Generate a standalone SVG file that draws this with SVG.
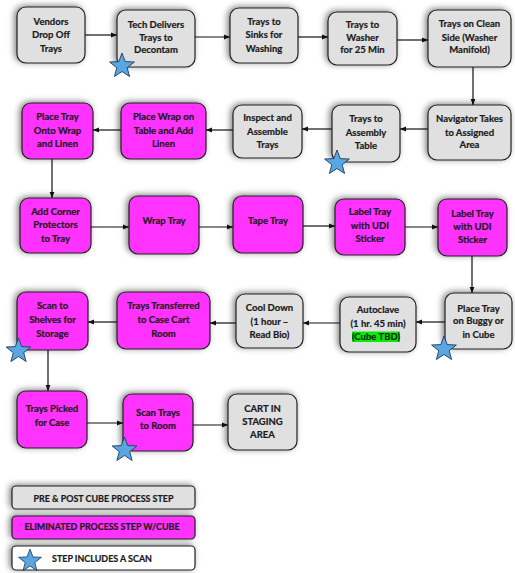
<svg xmlns="http://www.w3.org/2000/svg" width="515" height="573" viewBox="0 0 515 573">
<defs>
<filter id="sh" x="-30%" y="-30%" width="160%" height="160%">
<feGaussianBlur in="SourceAlpha" stdDeviation="3"/>
<feOffset dx="-2" dy="-1" result="b"/>
<feFlood flood-color="#000" flood-opacity="0.5"/>
<feComposite in2="b" operator="in"/>
<feMerge><feMergeNode/><feMergeNode in="SourceGraphic"/></feMerge>
</filter>
<marker id="ah" viewBox="0 0 10 10" refX="10" refY="5" markerWidth="6" markerHeight="6" markerUnits="userSpaceOnUse" orient="auto">
<path d="M0,1 L10,5 L0,9 Z" fill="#111"/>
</marker>
<path id="star" d="M0,-13 L3.2,-4.4 L12.4,-4 L5.2,1.7 L7.6,10.5 L0,5.5 L-7.6,10.5 L-5.2,1.7 L-12.4,-4 L-3.2,-4.4 Z"/>
</defs>
<style>
.g{fill:#e0e0e0;stroke:#222;stroke-width:1.2;filter:url(#sh)}
.m{fill:#ff33ff;stroke:#222;stroke-width:1.2;filter:url(#sh)}
.w{fill:#fff;stroke:#222;stroke-width:1.2;filter:url(#sh)}
text{font-family:Lato,"Liberation Sans",sans-serif;font-weight:bold;font-size:9.5px;fill:#1a1a1a;stroke:#1a1a1a;stroke-width:0.2;text-anchor:middle}
.lg{font-size:8.8px}
.st{fill:#5aa6e0;stroke:#1e3a5c;stroke-width:0.9}
.c line{stroke:#111;stroke-width:1.2;marker-end:url(#ah)}
</style>
<g class="c" id="connectors">
<line x1="85" y1="35" x2="117" y2="35"/>
<line x1="195" y1="37" x2="230" y2="37"/>
<line x1="298" y1="37" x2="328" y2="37"/>
<line x1="397" y1="40" x2="428" y2="40"/>
<line x1="473" y1="67" x2="473" y2="105"/>
<line x1="428" y1="129" x2="400" y2="129"/>
<line x1="332" y1="129" x2="302" y2="129"/>
<line x1="233" y1="130" x2="206" y2="130"/>
<line x1="121" y1="130" x2="93" y2="130"/>
<line x1="52" y1="159" x2="52" y2="198"/>
<line x1="91" y1="227" x2="129" y2="227"/>
<line x1="199" y1="227" x2="233" y2="227"/>
<line x1="303" y1="226" x2="335" y2="226"/>
<line x1="405" y1="227" x2="438" y2="227"/>
<line x1="472" y1="256" x2="472" y2="293"/>
<line x1="445" y1="322" x2="416" y2="322"/>
<line x1="340" y1="323" x2="303" y2="323"/>
<line x1="236" y1="323" x2="210" y2="323"/>
<line x1="117" y1="322" x2="88" y2="322"/>
<line x1="48" y1="350" x2="48" y2="391"/>
<line x1="87" y1="423" x2="123" y2="423"/>
<line x1="193" y1="425" x2="228" y2="425"/>
</g>
<g id="n1"><rect class="g" x="17" y="7" width="68" height="56" rx="9"/>
<text x="51" y="25">Vendors</text><text x="51" y="38.3">Drop Off</text><text x="51" y="51.6">Trays</text></g>
<g id="n2"><rect class="g" x="117" y="10" width="78" height="57" rx="9"/>
<text x="156" y="28.3">Tech Delivers</text><text x="156" y="40.5">Trays to</text><text x="156" y="53.3">Decontam</text>
<use href="#star" class="st" transform="translate(122,66)"/></g>
<g id="n3"><rect class="g" x="230" y="8" width="68" height="55" rx="9"/>
<text x="264" y="25">Trays to</text><text x="264" y="38.3">Sinks for</text><text x="264" y="52">Washing</text></g>
<g id="n4"><rect class="g" x="328" y="12" width="69" height="53" rx="9"/>
<text x="362.5" y="28.3">Trays to</text><text x="362.5" y="40.6">Washer</text><text x="362.5" y="53.3">for 25 Min</text></g>
<g id="n5"><rect class="g" x="428" y="10" width="83" height="57" rx="9"/>
<text x="469.5" y="27.3">Trays on Clean</text><text x="469.5" y="40.6">Side (Washer</text><text x="469.5" y="53.3">Manifold)</text></g>
<g id="n6"><rect class="g" x="428" y="105" width="83" height="55" rx="9"/>
<text x="469.5" y="122.3">Navigator Takes</text><text x="469.5" y="135.6">to Assigned</text><text x="469.5" y="148.3">Area</text></g>
<g id="n7"><rect class="g" x="332" y="105" width="68" height="57" rx="9"/>
<text x="366" y="122.3">Trays to</text><text x="366" y="136">Assembly</text><text x="366" y="149.3">Table</text>
<use href="#star" class="st" transform="translate(337,163)"/></g>
<g id="n8"><rect class="g" x="233" y="105" width="69" height="53" rx="9"/>
<text x="267.5" y="121.3">Inspect and</text><text x="267.5" y="135">Assemble</text><text x="267.5" y="148.3">Trays</text></g>
<g id="n9"><rect class="m" x="121" y="103" width="85" height="56" rx="9"/>
<text x="163.5" y="120">Place Wrap on</text><text x="163.5" y="134">Table and Add</text><text x="163.5" y="146.6">Linen</text></g>
<g id="n10"><rect class="m" x="22" y="103" width="71" height="56" rx="9"/>
<text x="57.5" y="120">Place Tray</text><text x="57.5" y="134.3">Onto Wrap</text><text x="57.5" y="147.3">and Linen</text></g>
<g id="n11"><rect class="m" x="20" y="198" width="71" height="55" rx="9"/>
<text x="55.5" y="215">Add Corner</text><text x="55.5" y="228.3">Protectors</text><text x="55.5" y="241.6">to Tray</text></g>
<g id="n12"><rect class="m" x="129" y="196" width="70" height="58" rx="9"/>
<text x="164" y="224">Wrap Tray</text></g>
<g id="n13"><rect class="m" x="233" y="196" width="70" height="57" rx="9"/>
<text x="268" y="224.3">Tape Tray</text></g>
<g id="n14"><rect class="m" x="335" y="199" width="70" height="56" rx="9"/>
<text x="370" y="215">Label Tray</text><text x="370" y="229">with UDI</text><text x="370" y="242.3">Sticker</text></g>
<g id="n15"><rect class="m" x="438" y="199" width="69" height="57" rx="9"/>
<text x="472.5" y="216.6">Label Tray</text><text x="472.5" y="230">with UDI</text><text x="472.5" y="243.3">Sticker</text></g>
<g id="n16"><rect class="g" x="445" y="293" width="67" height="56" rx="9"/>
<text x="478.5" y="311.6">Place Tray</text><text x="478.5" y="324.3">on Buggy or</text><text x="478.5" y="338.3">in Cube</text>
<use href="#star" class="st" transform="translate(444,349)"/></g>
<g id="n17"><rect class="g" x="340" y="297" width="76" height="55" rx="9"/>
<rect x="352" y="331.5" width="48" height="10.5" fill="#00ee00"/>
<text x="378" y="313.3">Autoclave</text><text x="378" y="327.3">(1 hr. 45 min)</text><text x="376" y="340">(Cube TBD)</text></g>
<g id="n18"><rect class="g" x="236" y="294" width="67" height="54" rx="9"/>
<text x="269.5" y="311.3">Cool Down</text><text x="269.5" y="325">(1 hour –</text><text x="269.5" y="338.3">Read Bio)</text></g>
<g id="n19"><rect class="m" x="117" y="292" width="93" height="57" rx="9"/>
<text x="163.5" y="309">Trays Transferred</text><text x="163.5" y="323.3">to Case Cart</text><text x="163.5" y="337.3">Room</text></g>
<g id="n20"><rect class="m" x="17" y="292" width="71" height="58" rx="9"/>
<text x="52.5" y="309">Scan to</text><text x="52.5" y="323.3">Shelves for</text><text x="52.5" y="337.3">Storage</text>
<use href="#star" class="st" transform="translate(18.5,351)"/></g>
<g id="n21"><rect class="m" x="17" y="391" width="70" height="57" rx="9"/>
<text x="52" y="412.3">Trays Picked</text><text x="52" y="426">for Case</text></g>
<g id="n22"><rect class="m" x="123" y="394" width="70" height="57" rx="9"/>
<text x="158" y="415.6">Scan Trays</text><text x="158" y="429">to Room</text>
<use href="#star" class="st" transform="translate(124.5,450)"/></g>
<g id="n23"><rect class="g" x="228" y="394" width="69" height="56" rx="9"/>
<text x="262.5" y="411.6">CART IN</text><text x="262.5" y="425">STAGING</text><text x="262.5" y="437.6">AREA</text></g>
<g id="legend">
<rect class="g" x="12" y="486" width="183" height="23" rx="4"/>
<text class="lg" x="103.5" y="502.4" textLength="140" lengthAdjust="spacingAndGlyphs">PRE &amp; POST CUBE PROCESS STEP</text>
<rect class="m" x="12" y="516" width="183" height="23" rx="4"/>
<text class="lg" x="102" y="530.4" textLength="155" lengthAdjust="spacingAndGlyphs">ELIMINATED PROCESS STEP W/CUBE</text>
<rect class="w" x="12" y="546" width="183" height="24" rx="4"/>
<use href="#star" class="st" transform="translate(30,561) scale(0.92)"/>
<text class="lg" x="52" y="562.4" textLength="100" lengthAdjust="spacingAndGlyphs" style="text-anchor:start">STEP INCLUDES A SCAN</text>
</g>
</svg>
